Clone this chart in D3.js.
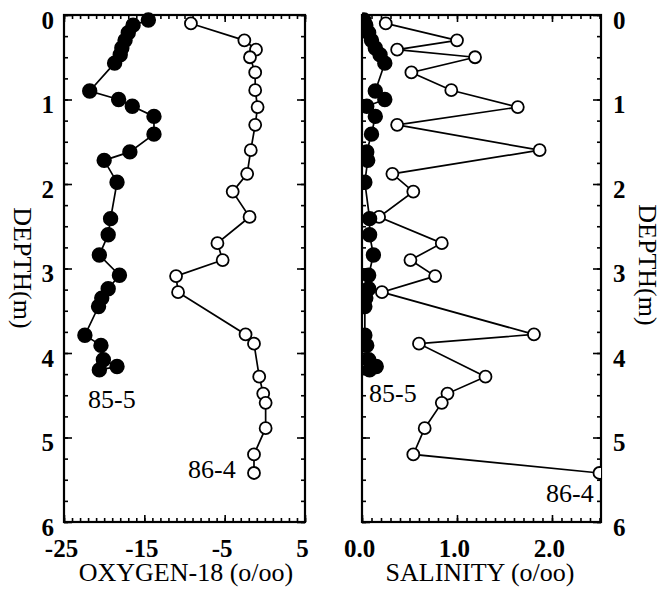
<!DOCTYPE html>
<html>
<head>
<meta charset="utf-8">
<script src="https://cdn.jsdelivr.net/npm/d3@7"></script>
<style>
  body { margin: 0; background: #fff; }
  svg { display: block; }
  .tickLab { font-family: "Liberation Serif", "Times New Roman", serif; font-weight: bold; font-size: 25px; fill: #000; }
  .title { font-family: "Liberation Serif", "Times New Roman", serif; font-size: 26px; fill: #000; }
</style>
</head>
<body>
<script>
// sample depths (m), core 85-5 (filled) and core 86-4 (open)
var depth855 = [0.06, 0.12, 0.21, 0.30, 0.39, 0.47, 0.57, 0.90, 1.00, 1.08, 1.20, 1.41, 1.62, 1.72, 1.98,
                2.41, 2.60, 2.84, 3.08, 3.24, 3.35, 3.45, 3.79, 3.91, 4.08, 4.16, 4.20];
var oxy855 = [-14.5, -16.4, -17.0, -17.4, -17.8, -18.0, -18.7, -21.8, -18.2, -16.5, -13.8, -13.8, -16.8, -20.0, -18.4,
              -19.2, -19.5, -20.6, -18.1, -19.5, -20.3, -20.7, -22.4, -20.4, -20.1, -18.4, -20.6];
var sal855 = [0.02, 0.04, 0.07, 0.10, 0.14, 0.19, 0.24, 0.14, 0.24, 0.05, 0.14, 0.10, 0.05, 0.06, 0.03,
              0.08, 0.08, 0.12, 0.07, 0.07, 0.04, 0.03, 0.03, 0.05, 0.07, 0.15, 0.08];

var depth864 = [0.10, 0.30, 0.41, 0.50, 0.68, 0.89, 1.09, 1.30, 1.60, 1.88, 2.09, 2.39,
                2.70, 2.90, 3.09, 3.28, 3.78, 3.89, 4.28, 4.48, 4.59, 4.89, 5.20, 5.42];
var oxy864 = [-9.2, -2.55, -1.1, -1.85, -1.2, -1.2, -0.9, -1.2, -1.75, -2.2, -4.0, -1.9,
              -5.9, -5.25, -11.05, -10.8, -2.4, -1.35, -0.7, -0.2, 0.1, 0.1, -1.35, -1.35];
var sal864 = [0.25, 1.00, 0.37, 1.19, 0.52, 0.94, 1.64, 0.37, 1.87, 0.32, 0.54, 0.18,
              0.84, 0.51, 0.77, 0.21, 1.81, 0.60, 1.30, 0.90, 0.84, 0.66, 0.54, 2.50];

// axis ticks
var depthTicks = [0, 1, 2, 3, 4, 5, 6];
var oxyTicks = [-25, -15, -5, 5];
var oxyTickLabels = ["-25", "-15", "-5", "5"];
var salTicks = [0, 1, 2];
var salTickLabels = ["0.0", "1.0", "2.0"];

var width = 672, height = 589;
var plotTop = 15, plotBottom = 522;

var svg = d3.select("body")
    .append("svg")
    .attr("width", width)
    .attr("height", height);

var yScale = d3.scaleLinear().domain([0, 6]).range([plotTop, plotBottom]);

//left panel: oxygen-18
var xOxy = d3.scaleLinear().domain([-25, 5]).range([64, 305]);
//right panel: salinity
var xSal = d3.scaleLinear().domain([0, 2.516]).range([362, 601]);

function zip(xs, ys){
    return xs.map(function(v, i){ return {x: v, d: ys[i]}; });
}

function noDomain(a){ a.select(".domain").remove(); }

//builds one panel with its frame, ticks and clip
function buildPanel(id, xs, majorX, minorStep, labels, leftLabels){
    var x0 = xs.range()[0], x1 = xs.range()[1];
    var g = svg.append("g").attr("id", id);

    var minorX = d3.range(xs.domain()[0], xs.domain()[1] + 1e-6, minorStep);
    var minorY = d3.range(0, 6.001, 0.25);

    //bottom axis, labels + major ticks inward
    var xb = g.append("g")
        .attr("transform", "translate(0," + plotBottom + ")")
        .call(d3.axisBottom(xs).tickValues(majorX).tickSize(-7).tickPadding(17)
              .tickFormat(function(v, i){ return labels[i]; }))
        .call(noDomain);
    xb.selectAll(".tick text").attr("dx", -3);
    g.append("g")
        .attr("transform", "translate(0," + plotBottom + ")")
        .call(d3.axisBottom(xs).tickValues(minorX).tickSize(-4).tickFormat(""))
        .call(noDomain);
    //top axis, ticks only
    g.append("g")
        .attr("transform", "translate(0," + plotTop + ")")
        .call(d3.axisTop(xs).tickValues(majorX).tickSize(-7).tickFormat(""))
        .call(noDomain);
    g.append("g")
        .attr("transform", "translate(0," + plotTop + ")")
        .call(d3.axisTop(xs).tickValues(minorX).tickSize(-4).tickFormat(""))
        .call(noDomain);

    //depth ticks on both sides
    var yl = g.append("g")
        .attr("transform", "translate(" + x0 + ",0)")
        .call(d3.axisLeft(yScale).tickValues(depthTicks).tickSize(-8).tickPadding(10)
              .tickFormat(leftLabels ? d3.format("d") : ""))
        .call(noDomain);
    g.append("g")
        .attr("transform", "translate(" + x0 + ",0)")
        .call(d3.axisLeft(yScale).tickValues(minorY).tickSize(-4).tickFormat(""))
        .call(noDomain);
    var yr = g.append("g")
        .attr("transform", "translate(" + x1 + ",0)")
        .call(d3.axisRight(yScale).tickValues(depthTicks).tickSize(-8).tickPadding(12)
              .tickFormat(leftLabels ? "" : d3.format("d")))
        .call(noDomain);
    g.append("g")
        .attr("transform", "translate(" + x1 + ",0)")
        .call(d3.axisRight(yScale).tickValues(minorY).tickSize(-4).tickFormat(""))
        .call(noDomain);
    yl.selectAll(".tick text").attr("dy", "0.52em");
    yr.selectAll(".tick text").attr("dy", "0.52em");

    g.selectAll(".tick line").attr("stroke", "#000").attr("stroke-width", 1.6);
    g.selectAll(".tick text")
        .attr("font-family", "'Liberation Serif', serif")
        .attr("font-weight", "bold")
        .attr("font-size", "25px")
        .attr("fill", "#000");

    //frame
    g.append("rect")
        .attr("x", x0)
        .attr("y", plotTop)
        .attr("width", x1 - x0)
        .attr("height", plotBottom - plotTop)
        .attr("fill", "none")
        .attr("stroke", "#000")
        .attr("stroke-width", 2.2);

    //clip for the marks
    g.append("clipPath")
        .attr("id", id + "Clip")
        .append("rect")
        .attr("x", x0)
        .attr("y", plotTop - 10)
        .attr("width", x1 - x0)
        .attr("height", plotBottom - plotTop + 20);

    return g;
}

function drawSeries(g, id, xs, data, filled){
    var line = d3.line()
        .x(function(p){ return xs(p.x); })
        .y(function(p){ return yScale(p.d); });

    var s = g.append("g").attr("clip-path", "url(#" + id + "Clip)");
    s.append("path")
        .datum(data)
        .attr("d", line)
        .attr("fill", "none")
        .attr("stroke", "#000")
        .attr("stroke-width", 1.7);
    s.selectAll("circle")
        .data(data)
        .enter()
        .append("circle")
        .attr("cx", function(p){ return xs(p.x); })
        .attr("cy", function(p){ return yScale(p.d); })
        .attr("r", filled ? 6.8 : 6)
        .attr("fill", filled ? "#000" : "#fff")
        .attr("stroke", "#000")
        .attr("stroke-width", 1.8);
}

var gL = buildPanel("oxyPanel", xOxy, oxyTicks, 1, oxyTickLabels, true);
drawSeries(gL, "oxyPanel", xOxy, zip(oxy864, depth864), false);
drawSeries(gL, "oxyPanel", xOxy, zip(oxy855, depth855), true);

var gR = buildPanel("salPanel", xSal, salTicks, 0.1, salTickLabels, false);
drawSeries(gR, "salPanel", xSal, zip(sal864, depth864), false);
drawSeries(gR, "salPanel", xSal, zip(sal855, depth855), true);

//core labels
var coreLabels = [
    {t: "85-5", x: 88, y: 408},
    {t: "86-4", x: 188, y: 478},
    {t: "85-5", x: 369, y: 402},
    {t: "86-4", x: 546, y: 502}
];
svg.selectAll(".coreLab")
    .data(coreLabels)
    .enter()
    .append("text")
    .attr("class", "title")
    .attr("x", function(c){ return c.x; })
    .attr("y", function(c){ return c.y; })
    .text(function(c){ return c.t; });

//axis titles
svg.append("text")
    .attr("class", "title")
    .attr("x", 186)
    .attr("y", 581)
    .attr("text-anchor", "middle")
    .text("OXYGEN-18 (o/oo)");
svg.append("text")
    .attr("class", "title")
    .attr("x", 480)
    .attr("y", 581)
    .attr("text-anchor", "middle")
    .text("SALINITY (o/oo)");

[{x: 23, y: 268}, {x: 648, y: 265}].forEach(function(p){
    svg.append("text")
        .attr("class", "title")
        .attr("transform", "translate(" + p.x + "," + p.y + ") rotate(90)")
        .attr("text-anchor", "middle")
        .attr("dy", "0.35em")
        .text("DEPTH(m)");
});
</script>
</body>
</html>
